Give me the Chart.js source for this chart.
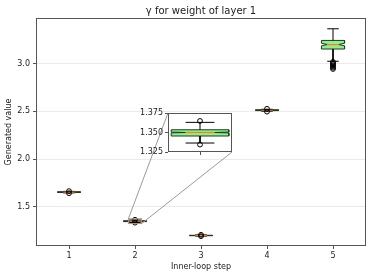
<!DOCTYPE html>
<html>
<head>
<meta charset="utf-8">
<title>gamma boxplot</title>
<script src="https://cdn.jsdelivr.net/npm/chart.js"></script>
<style>
  body { margin: 0; background: #fff; }
  #wrap { position: relative; width: 374px; height: 278px; }
  #inset { position: absolute; left: 120px; top: 105px; }
</style>
</head>
<body>
<div id="wrap">
  <canvas id="main" width="374" height="278"></canvas>
  <canvas id="inset" width="124" height="56"></canvas>
</div>
<script>
// box stats per inner-loop step
const steps  = [1, 2, 3, 4, 5];
const q1     = [1.651, 1.3455, 1.198, 2.508, 3.153];
const med    = [1.654, 1.350,  1.200, 2.512, 3.200];
const q3     = [1.657, 1.3535, 1.202, 2.516, 3.243];
const whisLo = [1.646, 1.3365, 1.194, 2.502, 3.025];
const whisHi = [1.662, 1.363,  1.206, 2.522, 3.365];
const ciLo   = [1.653, 1.3495, 1.1995, 2.511, 3.186];
const ciHi   = [1.655, 1.3505, 1.2005, 2.513, 3.214];
const fliers = [
  [1.665, 1.643],
  [1.3648, 1.3345],
  [1.207, 1.193],
  [2.527, 2.497],
  [3.018, 3.006, 2.994, 2.982, 2.970, 2.958, 2.944]
];
const yTicks = [1.5, 2.0, 2.5, 3.0];
const insetTicks = [1.325, 1.35, 1.375];
const insetIdx = 1;
const insetX = [1.9, 2.1];
const insetY = [1.325, 1.375];

Chart.defaults.font.family = "'DejaVu Sans', sans-serif";
Chart.defaults.font.size = 8;
Chart.defaults.color = '#222';
Chart.defaults.animation = false;

const gap = x => ({x, y: null});

function boxSets(idx, hw) {
  const sets = [];
  const wh = [], md = [], fl = [];
  idx.forEach(i => {
    const s = steps[i];
    sets.push({
      data: [
        {x: s - hw, y: q1[i]}, {x: s - hw, y: ciLo[i]}, {x: s - hw / 2, y: med[i]},
        {x: s - hw, y: ciHi[i]}, {x: s - hw, y: q3[i]}, {x: s + hw, y: q3[i]},
        {x: s + hw, y: ciHi[i]}, {x: s + hw / 2, y: med[i]}, {x: s + hw, y: ciLo[i]},
        {x: s + hw, y: q1[i]}, {x: s - hw, y: q1[i]}
      ],
      showLine: true, fill: 'shape', backgroundColor: '#90ee90',
      borderColor: '#1d3d1d', borderWidth: 1, pointRadius: 0, order: 3
    });
    wh.push({x: s, y: q1[i]}, {x: s, y: whisLo[i]}, gap(s),
            {x: s, y: q3[i]}, {x: s, y: whisHi[i]}, gap(s),
            {x: s - hw / 2, y: whisLo[i]}, {x: s + hw / 2, y: whisLo[i]}, gap(s),
            {x: s - hw / 2, y: whisHi[i]}, {x: s + hw / 2, y: whisHi[i]}, gap(s));
    md.push({x: s - hw / 2, y: med[i]}, {x: s + hw / 2, y: med[i]}, gap(s));
    fliers[i].forEach(v => fl.push({x: s, y: v}));
  });
  sets.push({data: wh, showLine: true, spanGaps: false, borderColor: '#000', borderWidth: 1, pointRadius: 0, order: 2});
  sets.push({data: md, showLine: true, spanGaps: false, borderColor: '#ff7f0e', borderWidth: 1.2, pointRadius: 0, order: 1});
  sets.push({data: fl, showLine: false, pointRadius: 2.4, pointStyle: 'circle',
             backgroundColor: 'rgba(0,0,0,0)', borderColor: '#000', pointBorderWidth: 1, order: 0});
  return sets;
}

const frame = {
  id: 'frame',
  beforeDatasetsDraw(chart) {
    const {ctx, chartArea: a} = chart;
    if (chart.canvas.id === 'inset') {
      ctx.save();
      ctx.fillStyle = '#fff';
      ctx.fillRect(a.left, a.top, a.width, a.height);
      ctx.restore();
    }
  },
  afterDatasetsDraw(chart) {
    const {ctx, chartArea: a} = chart;
    ctx.save();
    ctx.strokeStyle = '#555';
    ctx.lineWidth = 1;
    ctx.strokeRect(Math.round(a.left) + 0.5, Math.round(a.top) + 0.5,
                   Math.round(a.width) - 1, Math.round(a.height) - 1);
    ctx.restore();
  }
};

const scaleBase = {
  border: {display: false},
  ticks: {color: '#222', font: {size: 8}}
};

const insetCanvas = document.getElementById('inset');
const insetChart = new Chart(insetCanvas, {
  type: 'scatter',
  data: {datasets: boxSets([insetIdx], 0.09)},
  options: {
    responsive: false,
    layout: {padding: {top: 8, right: 12, bottom: 5, left: 0}},
    plugins: {legend: {display: false}, tooltip: {enabled: false}},
    scales: {
      x: {
        ...scaleBase, type: 'linear', min: insetX[0], max: insetX[1],
        grid: {drawOnChartArea: false, tickLength: 3, tickColor: '#555'},
        ticks: {callback: () => ''},
        afterBuildTicks: s => { s.ticks = [{value: steps[insetIdx]}]; },
        afterFit: s => { s.height = 4; }
      },
      y: {
        ...scaleBase, min: insetY[0], max: insetY[1],
        grid: {drawOnChartArea: false, tickLength: 3, tickColor: '#555'},
        ticks: {color: '#222', font: {size: 8}, padding: 2, callback: v => v.toFixed(3)},
        afterBuildTicks: s => { s.ticks = insetTicks.map(v => ({value: v})); },
        afterFit: s => { s.width = 48; }
      }
    }
  },
  plugins: [frame]
});

const connectors = {
  id: 'connectors',
  afterDatasetsDraw(chart) {
    const {ctx, scales: {x, y}} = chart;
    const ia = insetChart.chartArea;
    const ox = insetCanvas.offsetLeft, oy = insetCanvas.offsetTop;
    const rl = x.getPixelForValue(insetX[0]), rr = x.getPixelForValue(insetX[1]);
    const rt = y.getPixelForValue(insetY[1]), rb = y.getPixelForValue(insetY[0]);
    ctx.save();
    ctx.strokeStyle = '#999';
    ctx.lineWidth = 1;
    ctx.strokeRect(rl, rt, rr - rl, rb - rt);
    ctx.beginPath();
    ctx.moveTo(ox + ia.left, oy + ia.top);
    ctx.lineTo(rl, rt);
    ctx.moveTo(ox + ia.right, oy + ia.bottom);
    ctx.lineTo(rr, rb);
    ctx.stroke();
    ctx.restore();
  }
};

new Chart(document.getElementById('main'), {
  type: 'scatter',
  data: {datasets: boxSets([0, 1, 2, 3, 4], 0.175)},
  options: {
    responsive: false,
    layout: {padding: {top: 0, right: 8, bottom: 0, left: 0}},
    plugins: {
      legend: {display: false},
      tooltip: {enabled: false},
      title: {
        display: true, text: 'γ for weight of layer 1', fullSize: false,
        color: '#222', font: {size: 10, weight: 'normal'}, padding: {top: 5, bottom: 1}
      }
    },
    scales: {
      x: {
        ...scaleBase, type: 'linear', min: 0.5, max: 5.5,
        grid: {drawOnChartArea: false, tickLength: 3, tickColor: '#555'},
        ticks: {color: '#222', font: {size: 8}, padding: 2},
        afterBuildTicks: s => { s.ticks = steps.map(v => ({value: v})); },
        title: {display: true, text: 'Inner-loop step', color: '#222', font: {size: 8}, padding: {top: 0, bottom: 6}},
        afterFit: s => { s.height = 32; }
      },
      y: {
        ...scaleBase, min: 1.09, max: 3.478,
        grid: {color: '#ebebeb', tickLength: 3, tickColor: '#555'},
        ticks: {color: '#222', font: {size: 8}, padding: 3, callback: v => v.toFixed(1)},
        afterBuildTicks: s => { s.ticks = yTicks.map(v => ({value: v})); },
        title: {display: true, text: 'Generated value', color: '#222', font: {size: 8}, padding: {top: 4, bottom: 0}},
        afterFit: s => { s.width = 36; }
      }
    }
  },
  plugins: [frame, connectors]
});
</script>
</body>
</html>
